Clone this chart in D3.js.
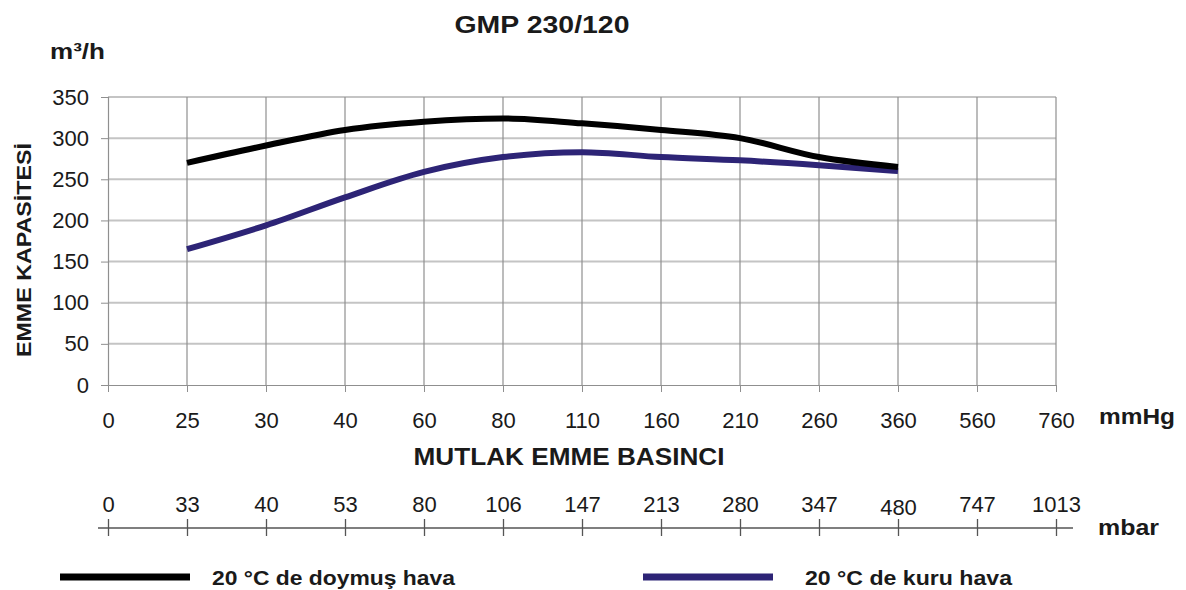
<!DOCTYPE html>
<html>

<head>
  <script src="https://d3js.org/d3.v7.min.js"></script>
  <style>
    body { margin: 0; background: #fff; }
    text { font-family: "Liberation Sans", Arial, sans-serif; fill: #1a1a1a; }
  </style>
</head>

<body>
  <script>
    const width = 1186;
    const height = 590;

    // x categories (equal spacing), two scales
    const mmHg = ["0", "25", "30", "40", "60", "80", "110", "160", "210", "260", "360", "560", "760"];
    const mbar = ["0", "33", "40", "53", "80", "106", "147", "213", "280", "347", "480", "747", "1013"];
    const yTicks = [0, 50, 100, 150, 200, 250, 300, 350];

    // measured points (mmHg 25 .. 360)
    const pointsX = ["25", "30", "40", "60", "80", "110", "160", "210", "260", "360"];
    const doymus = [270, 291, 310, 320, 324, 318, 310, 300, 277, 265];
    const kuru = [165, 194, 228, 259, 277, 283, 277, 273, 267, 260];

    const svg = d3.select("body")
      .append("svg")
      .attr("width", width)
      .attr("height", height);

    const x = d3.scalePoint().domain(mmHg).range([108, 1056]);
    const xb = d3.scalePoint().domain(mbar).range([108, 1056]);
    const y = d3.scaleLinear().domain([0, 350]).range([385, 97]);

    // horizontal grid
    svg.append("g").selectAll("line")
      .data(yTicks.filter(d => d > 0))
      .enter().append("line")
      .attr("x1", 108).attr("x2", 1056)
      .attr("y1", d => y(d)).attr("y2", d => y(d))
      .attr("stroke", "#c4c4c4").attr("stroke-width", 2);

    // vertical grid
    svg.append("g").selectAll("line")
      .data(mmHg.slice(1))
      .enter().append("line")
      .attr("x1", d => x(d)).attr("x2", d => x(d))
      .attr("y1", y(350)).attr("y2", y(0))
      .attr("stroke", "#8f8f8f").attr("stroke-width", 1.2);

    // y axis
    const yAxis = svg.append("g")
      .attr("transform", "translate(108,0)")
      .call(d3.axisLeft(y).tickValues(yTicks).tickSize(7).tickPadding(12));
    yAxis.select(".domain").attr("stroke", "#8f8f8f").attr("stroke-width", 1.2);
    yAxis.selectAll(".tick line").attr("stroke", "#8f8f8f");
    yAxis.selectAll("text").style("font-size", "22px").attr("fill", "#1a1a1a")
      .style("font-family", "Liberation Sans, Arial, sans-serif");

    // x axis (mmHg)
    const xAxis = svg.append("g")
      .attr("transform", "translate(0,385)")
      .call(d3.axisBottom(x).tickSize(7).tickPadding(14).tickSizeOuter(0));
    xAxis.select(".domain").attr("stroke", "#8f8f8f").attr("stroke-width", 1.2);
    xAxis.selectAll(".tick line").attr("stroke", "#8f8f8f");
    xAxis.selectAll("text").style("font-size", "22px").attr("fill", "#1a1a1a")
      .attr("y", 43).attr("dy", "0")
      .style("font-family", "Liberation Sans, Arial, sans-serif");

    // mbar axis
    const bAxis = svg.append("g")
      .attr("transform", "translate(0,528)")
      .call(d3.axisBottom(xb).tickSize(0));
    bAxis.select(".domain").remove();
    bAxis.append("line")
      .attr("x1", 98).attr("x2", 1073)
      .attr("stroke", "#555").attr("stroke-width", 1.3);
    bAxis.selectAll(".tick").append("line")
      .attr("y1", -9).attr("y2", 8)
      .attr("stroke", "#555").attr("stroke-width", 1.3);
    bAxis.selectAll(".tick text")
      .attr("y", d => d === "480" ? -13 : -16)
      .attr("dy", "0")
      .style("font-size", "22px").attr("fill", "#3a3a3a")
      .style("font-family", "Liberation Sans, Arial, sans-serif");

    // curves
    const line = d3.line()
      .x((d, i) => x(pointsX[i]))
      .y(d => y(d))
      .curve(d3.curveMonotoneX);

    svg.append("path").datum(kuru)
      .attr("d", line)
      .attr("fill", "none").attr("stroke", "#2d2476").attr("stroke-width", 6);
    svg.append("path").datum(doymus)
      .attr("d", line)
      .attr("fill", "none").attr("stroke", "#000").attr("stroke-width", 6);

    // titles
    svg.append("text").attr("x", 542).attr("y", 33)
      .attr("text-anchor", "middle")
      .attr("textLength", 175).attr("lengthAdjust", "spacingAndGlyphs")
      .style("font-size", "23px").style("font-weight", "bold")
      .text("GMP 230/120");

    svg.append("text").attr("x", 50).attr("y", 59)
      .attr("textLength", 55).attr("lengthAdjust", "spacingAndGlyphs")
      .style("font-size", "22px").style("font-weight", "bold")
      .text("m³/h");

    svg.append("text")
      .attr("transform", "translate(31,250) rotate(-90)")
      .attr("text-anchor", "middle")
      .attr("textLength", 214).attr("lengthAdjust", "spacingAndGlyphs")
      .style("font-size", "21px").style("font-weight", "bold")
      .text("EMME KAPASİTESİ");

    svg.append("text").attr("x", 1099).attr("y", 424)
      .attr("textLength", 76).attr("lengthAdjust", "spacingAndGlyphs")
      .style("font-size", "22px").style("font-weight", "bold")
      .text("mmHg");

    svg.append("text").attr("x", 569).attr("y", 465)
      .attr("text-anchor", "middle")
      .attr("textLength", 311).attr("lengthAdjust", "spacingAndGlyphs")
      .style("font-size", "23px").style("font-weight", "bold")
      .text("MUTLAK EMME BASINCI");

    svg.append("text").attr("x", 1098).attr("y", 535)
      .attr("textLength", 61).attr("lengthAdjust", "spacingAndGlyphs")
      .style("font-size", "22px").style("font-weight", "bold")
      .text("mbar");

    // legend
    const legend = [
      { name: "20 °C de doymuş hava", color: "#000", x: 60, tx: 212, w: 243 },
      { name: "20 °C de kuru hava", color: "#2d2476", x: 643, tx: 805, w: 207 }
    ];
    const lg = svg.append("g").selectAll("g")
      .data(legend).enter().append("g");
    lg.append("line")
      .attr("x1", d => d.x).attr("x2", d => d.x + 130)
      .attr("y1", 577).attr("y2", 577)
      .attr("stroke", d => d.color).attr("stroke-width", 7);
    lg.append("text")
      .attr("x", d => d.tx).attr("y", 585)
      .attr("textLength", d => d.w).attr("lengthAdjust", "spacingAndGlyphs")
      .style("font-size", "21px").style("font-weight", "bold")
      .text(d => d.name);
  </script>
</body>

</html>
